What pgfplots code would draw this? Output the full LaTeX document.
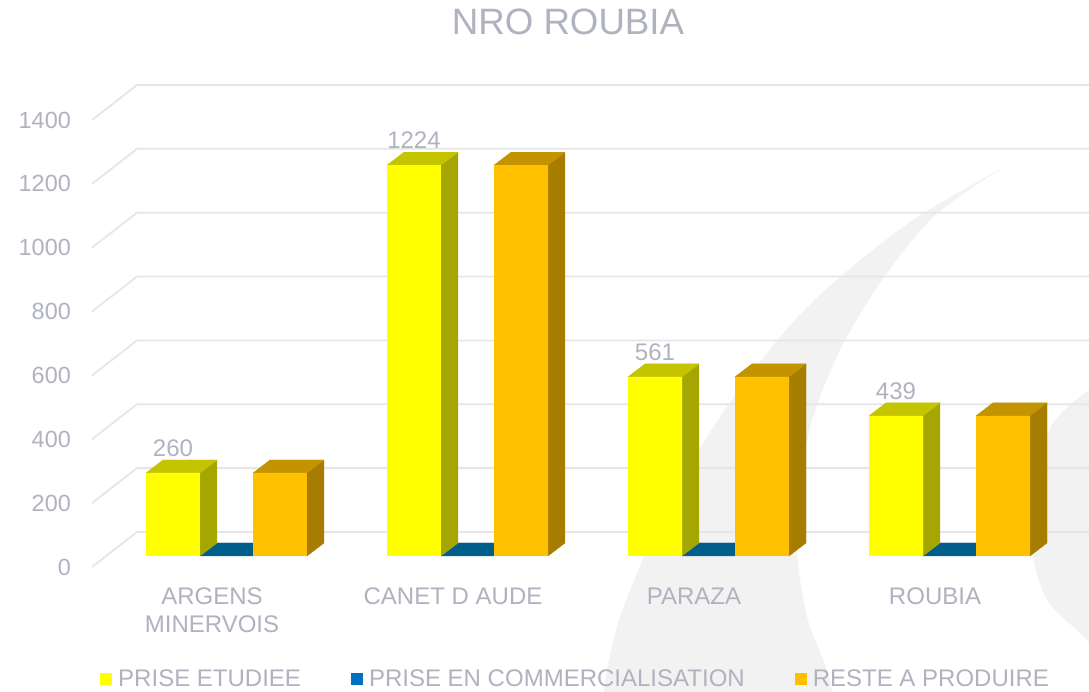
\documentclass[border=0pt]{standalone}
\usepackage{pgfplots}
\pgfplotsset{compat=1.18}
\usepackage{pgfplotstable}
\usepackage{fontspec}
\setmainfont{Liberation Sans}
\definecolor{txt}{RGB}{176,179,191}
\definecolor{gridc}{RGB}{230,230,230}
\definecolor{wm}{RGB}{242,242,242}
\definecolor{yfront}{RGB}{255,255,0}
\definecolor{yside}{RGB}{166,166,0}
\definecolor{ytop}{RGB}{196,196,0}
\definecolor{ofront}{RGB}{255,192,0}
\definecolor{oside}{RGB}{166,125,0}
\definecolor{otop}{RGB}{196,147,0}
\definecolor{bleg}{RGB}{0,112,192}
\definecolor{btop}{RGB}{0,94,140}

\pgfplotstableread{
x yellow blue orange
0 260 0 260
1 1224 0 1224
2 561 0 561
3 439 0 439
}\datatable

\def\ddx{0.0705}
\def\ddy{40.7}
\newcommand\lblfont{\fontsize{24.1}{28}\selectfont}
\newcommand\tickfont{\fontsize{23.5}{28}\selectfont}

\begin{document}
\begin{tikzpicture}[x=1bp,y=1bp]
\useasboundingbox (0,0) rectangle (1089,692);
\fill[white] (0,0) rectangle (1089,692);
% background watermark (slide logo)
\fill[wm] plot[smooth] coordinates {(1002,524) (913,472) (833,409) (780,355) (720,275) (680,209) (647,142) (620,75) (607,22) (603,-8)} -- plot[smooth] coordinates {(833,-8) (827,22) (807,75) (797,142) (800,209) (813,275) (840,342) (880,409) (933,475) (1002,524)} -- cycle;
\fill[wm] plot[smooth] coordinates {(1089,302) (1053,269) (1033,209) (1032,142) (1047,92) (1080,59) (1089,49)} -- (1095,49) -- (1095,302) -- cycle;
\node[font=\fontsize{36.8}{40}\selectfont, text=txt] at (568,670) {NRO ROUBIA};

\begin{axis}[
  at={(106bp,136bp)}, anchor=south west,
  scale only axis, width=964bp, height=447bp,
  xmin=-0.5, xmax=3.5, ymin=0, ymax=1400,
  clip=false,
  axis line style={draw=none},
  tick style={draw=none},
  major tick length=0pt,
  ytick={0,200,...,1400},
  xtick={0,1,2,3},
  xticklabels={{ARGENS\\MINERVOIS},{CANET D AUDE},{PARAZA},{ROUBIA}},
  yticklabel style={font=\tickfont, text=txt, inner sep=0pt, anchor=east, xshift=-35bp, yshift=-11bp},
  xticklabel style={font=\lblfont, text=txt, inner sep=0pt, anchor=north, align=center, xshift=-14.5bp, yshift=-32bp},
  /pgf/number format/1000 sep={},
  /pgf/number format/assume math mode=true,
  legend columns=3,
  legend style={at={(-0.0062,-0.2752)}, anchor=west, draw=none, fill=none, inner sep=0pt, font=\lblfont, text=txt, nodes={inner sep=0pt},
    /tikz/every odd column/.append style={column sep=6bp},
    /tikz/every even column/.append style={column sep=50bp}},
  legend image code/.code={\fill[#1] (0bp,-6bp) rectangle (12bp,6bp);},
]
% 3D gridlines (floor diagonal + back wall)
\pgfplotsinvokeforeach{0,200,400,600,800,1000,1200,1400}{
  \pgfmathsetmacro\gya{#1-34.45}
  \pgfmathsetmacro\gyb{#1+75.2}
  \edef\cmd{\noexpand\draw[gridc, line width=1.8bp] (axis cs:-0.558,\gya) -- (axis cs:-0.3714,\gyb) -- (axis cs:3.579,\gyb);}
  \cmd
}
% side and top faces of the 3D bars, from the table values
\pgfplotsinvokeforeach{0,1,2,3}{
  \pgfplotstablegetelem{#1}{yellow}\of\datatable
  \pgfmathsetmacro\va{\pgfplotsretval}
  \pgfplotstablegetelem{#1}{blue}\of\datatable
  \pgfmathsetmacro\vbl{\pgfplotsretval}
  \pgfplotstablegetelem{#1}{orange}\of\datatable
  \pgfmathsetmacro\vc{\pgfplotsretval}
  \pgfmathsetmacro\xa{#1-0.334}
  \pgfmathsetmacro\xb{#1-0.110}
  \pgfmathsetmacro\xc{#1+0.110}
  \pgfmathsetmacro\xd{#1+0.334}
  \pgfmathsetmacro\xab{\xa+\ddx}
  \pgfmathsetmacro\xbb{\xb+\ddx}
  \pgfmathsetmacro\xcb{\xc+\ddx}
  \pgfmathsetmacro\xdb{\xd+\ddx}
  \pgfmathsetmacro\vab{\va+\ddy}
  \pgfmathsetmacro\vblb{\vbl+\ddy}
  \pgfmathsetmacro\vcb{\vc+\ddy}
  \edef\cmd{%
    \noexpand\addplot[forget plot, draw=btop, line width=0.3bp, fill=btop] coordinates {(\xb,\vbl) (\xc,\vbl) (\xcb,\vblb) (\xbb,\vblb)} -- cycle;
    \noexpand\addplot[forget plot, draw=yside, line width=0.3bp, fill=yside] coordinates {(\xb,0) (\xbb,\ddy) (\xbb,\vab) (\xb,\va)} -- cycle;
    \noexpand\addplot[forget plot, draw=ytop, line width=0.3bp, fill=ytop] coordinates {(\xa,\va) (\xab,\vab) (\xbb,\vab) (\xb,\va)} -- cycle;
    \noexpand\addplot[forget plot, draw=oside, line width=0.3bp, fill=oside] coordinates {(\xd,0) (\xdb,\ddy) (\xdb,\vcb) (\xd,\vc)} -- cycle;
    \noexpand\addplot[forget plot, draw=otop, line width=0.3bp, fill=otop] coordinates {(\xc,\vc) (\xcb,\vcb) (\xdb,\vcb) (\xd,\vc)} -- cycle;
  }\cmd
}
% front faces
\addplot[ybar, bar width=0.224, bar shift=-0.222, fill=yfront, draw=none,
  nodes near coords,
  every node near coord/.append style={font=\lblfont, text=txt, inner sep=0pt, xshift=-53.5bp, yshift=16bp}]
  table[x=x, y=yellow]{\datatable};
\addlegendentry{PRISE ETUDIEE}
\addplot[ybar, bar width=0.224, bar shift=0, fill=bleg, draw=none]
  table[x=x, y=blue]{\datatable};
\addlegendentry{PRISE EN COMMERCIALISATION}
\addplot[ybar, bar width=0.224, bar shift=0.222, fill=ofront, draw=none]
  table[x=x, y=orange]{\datatable};
\addlegendentry{RESTE A PRODUIRE}
\end{axis}
\end{tikzpicture}
\end{document}
